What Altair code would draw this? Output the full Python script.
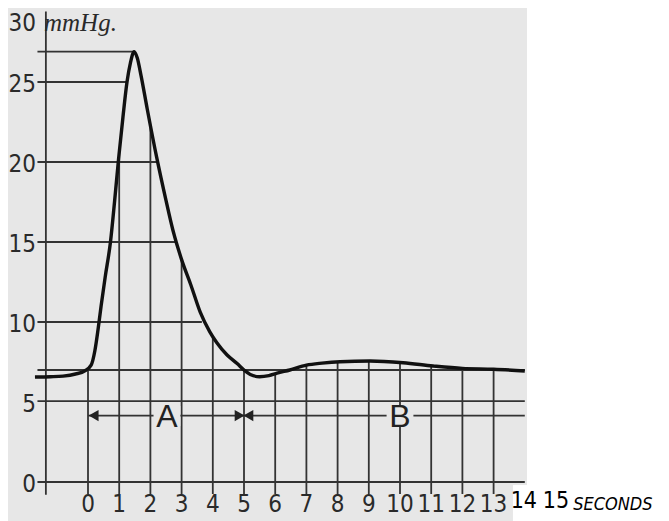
import altair as alt
import pandas as pd

# ---- data ----
# pressure curve (seconds, mmHg)
curve_t = [-1.70, -1.2, -0.8, -0.4, -0.1, 0.1, 0.22, 0.32, 0.42, 0.55, 0.72, 0.85, 0.98,
           1.12, 1.25, 1.36, 1.48, 1.58, 1.70, 1.90, 2.20, 2.50, 2.72, 3.00, 3.30, 3.60,
           3.90, 4.13, 4.45, 4.78, 5.00, 5.20, 5.50, 5.80, 6.06, 6.47, 7.00, 7.50, 8.08,
           9.04, 10.1, 11.06, 12.0, 13.0, 14.0]
curve_p = [6.56, 6.58, 6.62, 6.75, 6.95, 7.3, 8.2, 9.5, 11.0, 12.8, 15.0, 17.5, 20.2,
           22.8, 25.0, 26.2, 26.9, 26.5, 25.4, 23.3, 20.3, 17.6, 15.75, 13.9, 12.3, 10.6,
           9.4, 8.7, 7.95, 7.4, 7.0, 6.72, 6.58, 6.65, 6.8, 7.0, 7.3, 7.43, 7.52,
           7.56, 7.45, 7.25, 7.1, 7.05, 6.94]

# vertical rulings, one per second, drawn up to the curve
grid_sec = list(range(14))
grid_top = [7.0, 20.6, 22.2, 13.9, 9.0, 7.0, 6.8, 7.3, 7.5, 7.55, 7.45, 7.25, 7.1, 7.05]

# horizontal rulings and where they stop
h_level = [0, 5.05, 7.0, 10, 15, 20, 25, 26.9]
h_end = [14.0, 14.0, 14.0, 3.65, 2.83, 2.21, 1.25, 1.5]

# tick labels
y_tick_vals = [0, 5, 10, 15, 20, 25, 28.8]
y_tick_text = ["0", "5", "10", "15", "20", "25", "30"]
x_tick_vals = list(range(14))
x_tick_text = [str(v) for v in x_tick_vals]
x_extra_vals = [13.97, 15.0]
x_extra_text = ["14", "15"]

# phases A and B
phase_text = ["A", "B"]
phase_mid = [2.53, 10.0]
phase_level = 4.15

# ---- layout in data units ----
X0, X1 = -2.5641, 18.3654
Y0, Y1 = -2.4375, 29.625
xs = alt.Scale(domain=[X0, X1], nice=False, zero=False)
ys = alt.Scale(domain=[Y0, Y1], nice=False, zero=False)

PAPER = "#e7e7e7"
INK = "#333333"
NARROW = "'Liberation Sans Narrow', 'DejaVu Sans Condensed', 'Arial Narrow', sans-serif"


def X(f="x"):
    return alt.X(f"{f}:Q", scale=xs, axis=None)


def Y(f="y"):
    return alt.Y(f"{f}:Q", scale=ys, axis=None)


paper = alt.Chart(pd.DataFrame({"x": [X0], "x2": [14.07], "y": [Y0], "y2": [Y1]})).mark_rect(
    color=PAPER).encode(x=X(), x2="x2:Q", y=Y(), y2="y2:Q")
cut = alt.Chart(pd.DataFrame({"x": [13.62], "x2": [14.07], "y": [Y0], "y2": [-0.19]})).mark_rect(
    color="white").encode(x=X(), x2="x2:Q", y=Y(), y2="y2:Q")

vgrid = alt.Chart(pd.DataFrame({"x": grid_sec, "y": [-0.75] * len(grid_sec), "y2": grid_top})).mark_rule(
    color=INK, strokeWidth=1.8).encode(x=X(), y=Y(), y2="y2:Q")
hgrid = alt.Chart(pd.DataFrame({"y": h_level, "x": [-1.62] * len(h_level), "x2": h_end})).mark_rule(
    color=INK, strokeWidth=1.8).encode(y=Y(), x=X(), x2="x2:Q")
yaxis = alt.Chart(pd.DataFrame({"x": [-1.35], "y": [-0.8], "y2": [29.4]})).mark_rule(
    color=INK, strokeWidth=1.8).encode(x=X(), y=Y(), y2="y2:Q")

arrow_line = alt.Chart(pd.DataFrame({"y": [phase_level], "x": [0.0], "x2": [14.0]})).mark_rule(
    color=INK, strokeWidth=1.8).encode(y=Y(), x=X(), x2="x2:Q")
gaps = alt.Chart(pd.DataFrame({"x": [m - 0.43 for m in phase_mid], "x2": [m + 0.43 for m in phase_mid],
                               "y": [3.5, 3.5], "y2": [4.75, 4.75]})).mark_rect(
    color=PAPER).encode(x=X(), x2="x2:Q", y=Y(), y2="y2:Q")
heads = alt.Chart(pd.DataFrame({"x": [0.18, 4.86, 5.14], "y": [phase_level] * 3,
                                "s": ["triangle-left", "triangle-right", "triangle-left"]})).mark_point(
    filled=True, color="#222222", opacity=1, size=130).encode(
    x=X(), y=Y(), shape=alt.Shape("s:N", scale=None, legend=None))
phase_lbl = alt.Chart(pd.DataFrame({"x": phase_mid, "y": [phase_level] * 2, "t": phase_text})).mark_text(
    font="Liberation Sans", fontSize=32, color="#222222", baseline="middle", align="center", dy=1).encode(
    x=X(), y=Y(), text="t:N")

curve = alt.Chart(pd.DataFrame({"x": curve_t, "y": curve_p})).mark_line(
    color="#111111", strokeWidth=3.4, interpolate="monotone").encode(x=X(), y=Y(), order="x:Q")

ylbl = alt.Chart(pd.DataFrame({"x": [-1.667] * len(y_tick_vals), "y": y_tick_vals, "t": y_tick_text})).mark_text(
    font=NARROW, fontSize=24, color="#2a2a2a", align="right", baseline="middle", dy=3).encode(
    x=X(), y=Y(), text="t:N")
xlbl = alt.Chart(pd.DataFrame({"x": x_tick_vals, "y": [-1.44] * len(x_tick_vals), "t": x_tick_text})).mark_text(
    font=NARROW, fontSize=24, color="#2a2a2a", align="center", baseline="middle").encode(
    x=X(), y=Y(), text="t:N")
xlbl2 = alt.Chart(pd.DataFrame({"x": x_extra_vals, "y": [-1.2] * 2, "t": x_extra_text})).mark_text(
    font=NARROW, fontSize=23, color="#000000", align="center", baseline="middle").encode(
    x=X(), y=Y(), text="t:N")
xunit = alt.Chart(pd.DataFrame({"x": [15.55], "y": [-1.44], "t": ["SECONDS"]})).mark_text(
    font=NARROW, fontSize=18, fontStyle="italic", color="#000000",
    align="left", baseline="middle").encode(x=X(), y=Y(), text="t:N")
yunit = alt.Chart(pd.DataFrame({"x": [-1.41], "y": [28.7], "t": ["mmHg."]})).mark_text(
    font="Liberation Serif", fontSize=25, fontStyle="italic", color="#2a2a2a",
    align="left", baseline="middle").encode(x=X(), y=Y(), text="t:N")

chart = alt.layer(
    paper, cut, vgrid, hgrid, yaxis, arrow_line, gaps, heads, curve, phase_lbl,
    ylbl, xlbl, xlbl2, xunit, yunit
).properties(
    width=653, height=513, autosize=alt.AutoSizeParams(type="none"), padding=0,
    background="white"
).configure_view(stroke=None)

chart.save("out.html", embed_options={"renderer": "svg", "actions": False})
